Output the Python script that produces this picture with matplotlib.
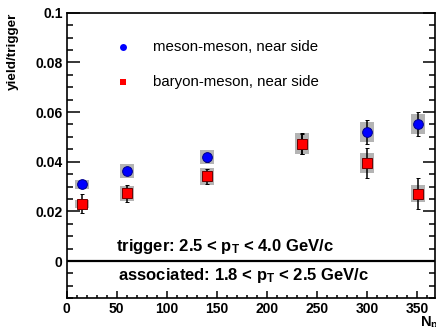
import matplotlib
matplotlib.use("Agg")
import matplotlib.pyplot as plt
from matplotlib.patches import Rectangle
from matplotlib.ticker import MultipleLocator

plt.rcParams['font.family'] = ['Liberation Sans', 'DejaVu Sans']
plt.rcParams['mathtext.fontset'] = 'custom'
plt.rcParams['mathtext.rm'] = 'Liberation Sans:bold'
plt.rcParams['mathtext.it'] = 'Liberation Sans:bold'
plt.rcParams['mathtext.bf'] = 'Liberation Sans:bold'

# ---- data ----
npart = [15, 60, 140, 235, 300, 351]
meson_y = [0.0309, 0.0364, 0.0418, 0.0470, 0.0519, 0.0552]
meson_stat = [0.0016, 0.0012, 0.0018, 0.0040, 0.0047, 0.0048]
meson_sys = [0.0019, 0.0028, 0.0028, 0.0040, 0.0041, 0.0039]
baryon_y = [0.0230, 0.0273, 0.0341, 0.0472, 0.0395, 0.0271]
baryon_stat = [0.0038, 0.0035, 0.0031, 0.0043, 0.0060, 0.0062]
baryon_sys = [0.0016, 0.0030, 0.0035, 0.0042, 0.0041, 0.0035]
box_halfwidth = 7

legend_labels = ["meson-meson, near side", "baryon-meson, near side"]

fig = plt.figure(figsize=(4.36, 3.27), dpi=100)
ax = fig.add_axes([0.153, 0.0878, 0.845, 0.8734])

ax.set_xlim(0, 368)
ax.set_ylim(-0.015, 0.1)

grey = '#b4b4b4'
for xs, ys, sy in ((npart, meson_y, meson_sys), (npart, baryon_y, baryon_sys)):
    for x, y, s in zip(xs, ys, sy):
        ax.add_patch(Rectangle((x - box_halfwidth, y - s), 2 * box_halfwidth, 2 * s,
                               facecolor=grey, edgecolor='none', zorder=1))

ax.errorbar(npart, meson_y, yerr=meson_stat, fmt='o', color='black', ecolor='black',
            elinewidth=1.1, capsize=1.6, capthick=1.1, markersize=7,
            markerfacecolor='#0000ff', markeredgecolor='#00008a', markeredgewidth=0.7, zorder=3)
ax.errorbar(npart, baryon_y, yerr=baryon_stat, fmt='s', color='black', ecolor='black',
            elinewidth=1.1, capsize=1.6, capthick=1.1, markersize=7,
            markerfacecolor='#ff0000', markeredgecolor='#700000', markeredgewidth=0.7, zorder=4)

ax.axhline(0, color='black', lw=1.6, zorder=2)

# legend (manual, ROOT-like)
ax.plot([56], [0.0860], 'o', color='#0000ff', markersize=5, markeredgewidth=0)
ax.plot([56], [0.0719], 's', color='#ff0000', markersize=5, markeredgewidth=0)
ax.text(86, 0.0860, legend_labels[0], fontsize=10.8, va='center', ha='left')
ax.text(86, 0.0719, legend_labels[1], fontsize=10.8, va='center', ha='left')

ax.text(49.5, 0.0041, r'trigger: 2.5 < p$_{\rm T}$ < 4.0 GeV/c', fontsize=12,
        fontweight='bold', va='baseline', ha='left')
ax.text(51, -0.0077, r'associated: 1.8 < p$_{\rm T}$ < 2.5 GeV/c', fontsize=12,
        fontweight='bold', va='baseline', ha='left')

# ticks
ax.xaxis.set_major_locator(MultipleLocator(50))
ax.xaxis.set_minor_locator(MultipleLocator(10))
ax.yaxis.set_major_locator(MultipleLocator(0.02))
ax.yaxis.set_minor_locator(MultipleLocator(0.005))
ax.tick_params(axis='y', which='major', direction='in', length=9, width=1.1,
               right=True, labelsize=10, pad=3)
ax.tick_params(axis='y', which='minor', direction='in', length=4.5, width=1.1, right=True)
ax.tick_params(axis='x', which='major', direction='in', length=5, width=1.1,
               top=False, labelsize=10, pad=3)
ax.tick_params(axis='x', which='minor', direction='in', length=2.5, width=1.1, top=False)
for lab in ax.get_xticklabels() + ax.get_yticklabels():
    lab.set_fontweight('bold')
ax.yaxis.set_major_formatter(plt.FuncFormatter(lambda v, p: ('%g' % round(v, 4))))

for sp in ax.spines.values():
    sp.set_linewidth(1.2)

fig.text(13 / 436, 1 - 13 / 327, 'yield/trigger', rotation=90, ha='center', va='top',
         fontsize=9.7, fontweight='bold')
fig.text(420 / 436, 1 - 315 / 327, r'N$_{\rm part}$', ha='left', va='top',
         fontsize=10.5, fontweight='bold')

fig.savefig('out.png', dpi=100)
